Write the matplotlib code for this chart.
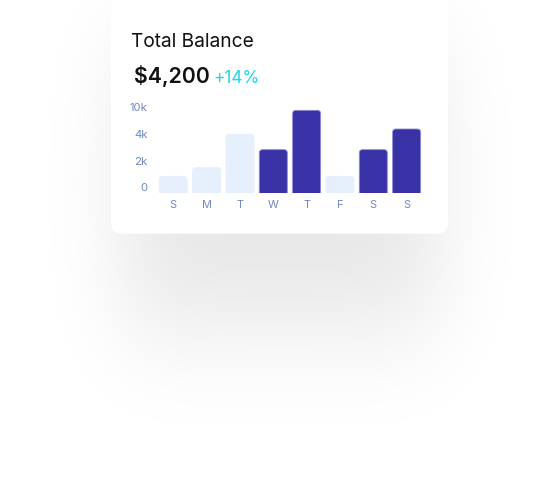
import numpy as np
import matplotlib.pyplot as plt
from matplotlib.patches import FancyBboxPatch
from matplotlib.transforms import ScaledTranslation

days = ['S', 'M', 'T', 'W', 'T', 'F', 'S', 'S']
values = [1.25, 1.9, 4.4, 3.25, 6.2, 1.25, 3.25, 4.8]
active = [False, False, False, True, True, False, True, True]
ytick_pos = [0, 2, 4, 6]
ytick_labels = ['0', '2k', '4k', '10k']
title = 'Total Balance'
balance = '$4,200'
change = '+14%'

W, H = 559, 485
fig = plt.figure(figsize=(W / 100, H / 100), dpi=100)
fig.patch.set_facecolor('white')
plt.rcParams['font.family'] = ['Inter', 'DejaVu Sans']

# background layer in pixel coords
bg = fig.add_axes([0, 0, 1, 1])
bg.set_xlim(0, W)
bg.set_ylim(H, 0)
bg.axis('off')

# soft drop shadow
def soft(v, a, b, s):
    from math import erf
    e = np.vectorize(erf)
    return 0.5 * (e((v - a) / (s * 1.414)) - e((v - b) / (s * 1.414)))
sx = soft(np.arange(W), 120, 440, 40)
sy = soft(np.arange(H), 40, 330, 55)
shadow = np.outer(sy, sx) * 0.095
rgba = np.zeros((H, W, 4))
rgba[..., 3] = shadow
bg.imshow(rgba, extent=(0, W, H, 0), interpolation='bilinear')

card = FancyBboxPatch((111, -30), 337, 264.7, boxstyle='round,pad=0,rounding_size=11',
                      fc='white', ec='none')
bg.add_patch(card)

bg.text(130.5, 46.7, title, fontsize=13.8, color='#111111', va='baseline')
bg.text(133.5, 83.3, balance, fontsize=15.3, color='#111111', fontweight='semibold', va='baseline')
bg.text(213.5, 82.8, change, fontsize=12.4, color='#1ED7EA', va='baseline')

# bar chart
step = 100 / 3.0
x0 = 173.3
left = x0 - 0.6 * step
right = x0 + 7.6 * step
base = 194
top = base - 7 * 13.333
ax = fig.add_axes([left / W, (H - base) / H, (right - left) / W, (base - top) / H])
ax.set_xlim(-0.6, 7.6)
ax.set_ylim(0, 7)
ax.patch.set_alpha(0)
for s in ax.spines.values():
    s.set_visible(False)

dark = '#3932A7'
light = '#E6F0FC'
bw = 0.84
for i, v in enumerate(values):
    fc = dark if active[i] else light
    ec = '#8E8AD6' if active[i] else light
    p = FancyBboxPatch((i - bw / 2, -1), bw, v + 1,
                       boxstyle='round,pad=0,rounding_size=0.1',
                       mutation_aspect=2.5, fc=fc, ec=ec, lw=0.6)
    ax.add_patch(p)

lab_col = '#6F87C5'
ax.set_xticks(range(len(days)))
ax.set_xticklabels(days, fontsize=7.9, color=lab_col)
ax.set_yticks(ytick_pos)
ax.set_yticklabels(ytick_labels, fontsize=8.2, color=lab_col)
ax.tick_params(length=0)
ax.tick_params(axis='x', pad=4.2)
ax.tick_params(axis='y', pad=4.0)
off = ScaledTranslation(0, 0.067, fig.dpi_scale_trans)
for t in ax.get_yticklabels():
    t.set_transform(t.get_transform() + off)

fig.savefig('out.png', dpi=100, facecolor='white')
